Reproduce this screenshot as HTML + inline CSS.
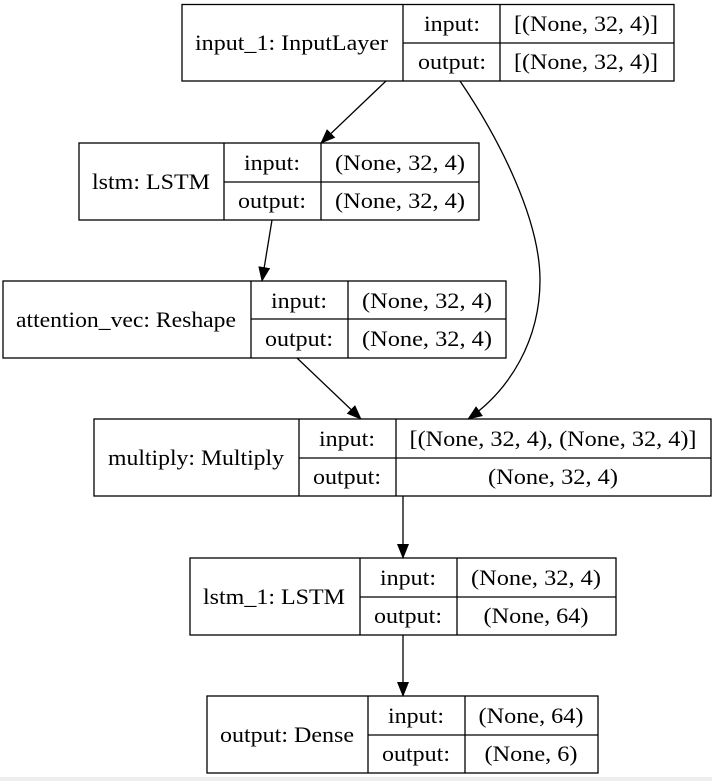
<!DOCTYPE html>
<html><head><meta charset="utf-8"><style>
html,body{margin:0;padding:0;background:#fff;}
svg{display:block;}
text{font-family:"Liberation Serif",serif;font-size:22px;fill:#000;}
</style></head><body>
<svg width="712" height="781" viewBox="0 0 712 781" xmlns="http://www.w3.org/2000/svg">
<rect x="0" y="777" width="712" height="4" fill="#eeeeee"/>
<defs>
<marker id="b" markerWidth="15" markerHeight="15" refX="14" refY="7.5" orient="auto" markerUnits="userSpaceOnUse" viewBox="0 0 15 15"><path d="M0,1.5 L15,7.5 L0,13.5 z" fill="#000"/></marker></defs>
<g fill="none" stroke="#000" stroke-width="1.3">
<rect x="182" y="4.5" width="492" height="76.5"/>
<line x1="403" y1="4.5" x2="403" y2="81"/><line x1="500" y1="4.5" x2="500" y2="81"/><line x1="403" y1="43" x2="674" y2="43"/>
<rect x="79" y="143" width="400" height="77"/>
<line x1="224" y1="143" x2="224" y2="220"/><line x1="321" y1="143" x2="321" y2="220"/><line x1="224" y1="182" x2="479" y2="182"/>
<rect x="3" y="281" width="503" height="77"/>
<line x1="251" y1="281" x2="251" y2="358"/><line x1="348" y1="281" x2="348" y2="358"/><line x1="251" y1="319" x2="506" y2="319"/>
<rect x="94" y="419" width="617" height="77"/>
<line x1="299" y1="419" x2="299" y2="496"/><line x1="396" y1="419" x2="396" y2="496"/><line x1="299" y1="458" x2="711" y2="458"/>
<rect x="190" y="558" width="426" height="77"/>
<line x1="360" y1="558" x2="360" y2="635"/><line x1="457" y1="558" x2="457" y2="635"/><line x1="360" y1="597" x2="616" y2="597"/>
<rect x="207" y="696" width="391" height="77"/>
<line x1="368" y1="696" x2="368" y2="773"/><line x1="465" y1="696" x2="465" y2="773"/><line x1="368" y1="735" x2="598" y2="735"/>
<path d="M386,81 L321,143" marker-end="url(#b)"/>
<path d="M272,220 L262,281" marker-end="url(#b)"/>
<path d="M460,81 C500,140 540,220 540,280 C540,340 510,390 468,419" marker-end="url(#b)"/>
<path d="M297,358 L361,419" marker-end="url(#b)"/>
<path d="M403,496 L403,558" marker-end="url(#b)"/>
<path d="M403,635 L403,696" marker-end="url(#b)"/>
</g>
<g text-anchor="middle">
<text x="291.5" y="50" textLength="193" lengthAdjust="spacingAndGlyphs">input_1: InputLayer</text>
<text x="452" y="31" textLength="56" lengthAdjust="spacingAndGlyphs">input:</text>
<text x="452" y="69" textLength="68" lengthAdjust="spacingAndGlyphs">output:</text>
<text x="586" y="31" textLength="144" lengthAdjust="spacingAndGlyphs">[(None, 32, 4)]</text>
<text x="586" y="69" textLength="144" lengthAdjust="spacingAndGlyphs">[(None, 32, 4)]</text>

<text x="151" y="189" textLength="118" lengthAdjust="spacingAndGlyphs">lstm: LSTM</text>
<text x="272" y="170" textLength="56" lengthAdjust="spacingAndGlyphs">input:</text>
<text x="272" y="208" textLength="68" lengthAdjust="spacingAndGlyphs">output:</text>
<text x="400" y="170" textLength="130" lengthAdjust="spacingAndGlyphs">(None, 32, 4)</text>
<text x="400" y="208" textLength="130" lengthAdjust="spacingAndGlyphs">(None, 32, 4)</text>

<text x="126" y="327" textLength="220" lengthAdjust="spacingAndGlyphs">attention_vec: Reshape</text>
<text x="299" y="308" textLength="56" lengthAdjust="spacingAndGlyphs">input:</text>
<text x="299" y="346" textLength="68" lengthAdjust="spacingAndGlyphs">output:</text>
<text x="427" y="308" textLength="130" lengthAdjust="spacingAndGlyphs">(None, 32, 4)</text>
<text x="427" y="346" textLength="130" lengthAdjust="spacingAndGlyphs">(None, 32, 4)</text>

<text x="196" y="465" textLength="176" lengthAdjust="spacingAndGlyphs">multiply: Multiply</text>
<text x="347" y="446" textLength="56" lengthAdjust="spacingAndGlyphs">input:</text>
<text x="347" y="484" textLength="68" lengthAdjust="spacingAndGlyphs">output:</text>
<text x="553" y="446" textLength="287" lengthAdjust="spacingAndGlyphs">[(None, 32, 4), (None, 32, 4)]</text>
<text x="553" y="484" textLength="130" lengthAdjust="spacingAndGlyphs">(None, 32, 4)</text>

<text x="274" y="604" textLength="142" lengthAdjust="spacingAndGlyphs">lstm_1: LSTM</text>
<text x="408" y="585" textLength="56" lengthAdjust="spacingAndGlyphs">input:</text>
<text x="408" y="623" textLength="68" lengthAdjust="spacingAndGlyphs">output:</text>
<text x="536" y="585" textLength="130" lengthAdjust="spacingAndGlyphs">(None, 32, 4)</text>
<text x="536" y="623" textLength="105" lengthAdjust="spacingAndGlyphs">(None, 64)</text>

<text x="287" y="742" textLength="134" lengthAdjust="spacingAndGlyphs">output: Dense</text>
<text x="416" y="723" textLength="56" lengthAdjust="spacingAndGlyphs">input:</text>
<text x="416" y="761" textLength="68" lengthAdjust="spacingAndGlyphs">output:</text>
<text x="531" y="723" textLength="105" lengthAdjust="spacingAndGlyphs">(None, 64)</text>
<text x="531" y="761" textLength="93" lengthAdjust="spacingAndGlyphs">(None, 6)</text>
</g>
</svg>
</body></html>
